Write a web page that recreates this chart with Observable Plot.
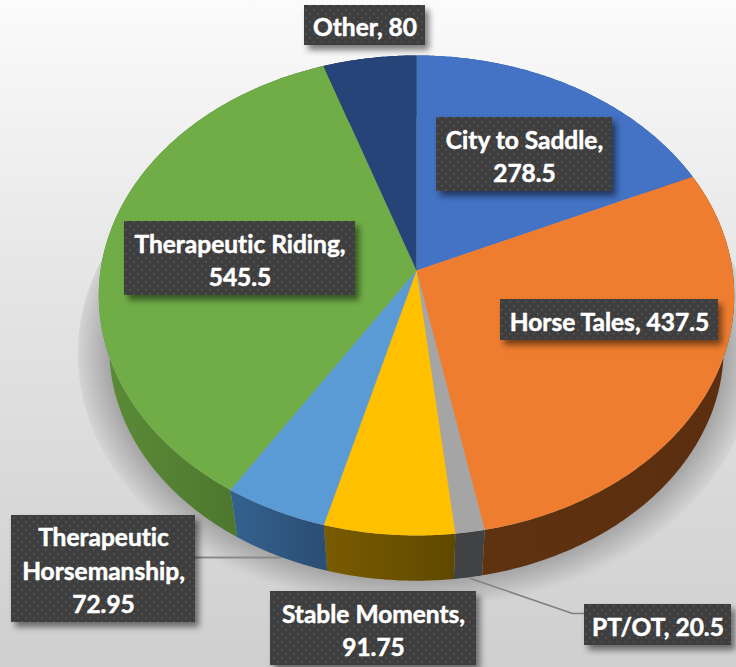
<!DOCTYPE html>
<html>
<head>
<meta charset="utf-8">
<script src="https://cdn.jsdelivr.net/npm/d3@7"></script>
<script src="https://cdn.jsdelivr.net/npm/@observablehq/plot@0.6"></script>
<style>html,body{margin:0;padding:0;background:#fff}svg{display:block}svg text{font-variant-ligatures:none}</style>
</head>
<body>
<div id="chart"></div>
<script>
const categories = ["City to Saddle","Horse Tales","PT/OT","Stable Moments","Therapeutic Horsemanship","Therapeutic Riding","Other"];
const values = [278.5,437.5,20.5,91.75,72.95,545.5,80];
const valueLabels = ["278.5","437.5","20.5","91.75","72.95","545.5","80"];
const topColors = ["#4472c4","#ef7d2f","#a5a5a5","#ffc000","#5b9bd5","#70ad47","#264478"];
const wallLeft = ["#2f5a9a","#5f3210","#404244","#7a5c00","#33628f","#5b8c37","#1d355e"];
const wallRight = ["#2f5a9a","#5a2e0f","#404244","#5f4800","#2b4e74","#466a29","#1d355e"];

// label layout (text lines, box edges in pixels)
const labelLines = [
  "City to Saddle,\n278.5","Horse Tales, 437.5","PT/OT, 20.5","Stable Moments,\n91.75",
  "Therapeutic\nHorsemanship,\n72.95","Therapeutic Riding,\n545.5","Other, 80"];
const boxLeft   = [436,500,584,270,11,124,304];
const boxRight  = [612,718,731,476,195,355,425];
const boxTop    = [117,299,604,591,515,221,5];
const boxBottom = [191,340,645,665,622,295,45];
const leaderTH = [[195,557],[280,557]];
const leaderPT = [[470,578],[572,613],[584,613]];

// oblique view of the disc
const CX=416, CY=270, B=316, A=237.4, K=0.104, DEPTH=55, FLOOR=0.967, SHADOW_FLOOR=600;
const project=(X,Y,z=0)=>{const w=1-K*Y;return [CX+B*X/w, CY+A*Y/w+z];};
const arcPts=(a0,a1,s=1,z=0)=>{
  const n=Math.max(2,Math.ceil((a1-a0)/0.01)),p=[];
  for(let i=0;i<=n;i++){const t=a0+(a1-a0)*i/n;p.push(project(s*Math.sin(t),-s*Math.cos(t),z));}
  return p;
};
const poly=ring=>({type:"Polygon",coordinates:[[...ring,ring[0]]]});
const arcs=d3.pie().sort(null).value(d=>d)(values);
const top_=arcs.map((a,i)=>({geom:poly([project(0,0),...arcPts(a.startAngle,a.endAngle)]),fill:topColors[i]}));
const wall=arcs.map((a,i)=>({geom:poly([...arcPts(a.startAngle,a.endAngle),...arcPts(a.startAngle,a.endAngle,FLOOR,DEPTH).reverse()]),fill:`url(#wall${i})`}));
const xs=arcs.map(a=>d3.extent(arcPts(a.startAngle,a.endAngle),p=>p[0]));

// soft cast shadow: nested discs stepping from the backdrop grey to the darkest grey, cut at a floor line
const SHADOW_LAYERS=18;
const shadowTone=d3.interpolateRgb("#d3d3d3","#a6a6a6");
const shadow=d3.range(SHADOW_LAYERS).map(i=>({
  fill:shadowTone(i/(SHADOW_LAYERS-1)),
  geom:poly(arcPts(0,2*Math.PI,1.065-i*0.0055,DEPTH).slice(0,-1).map(([x,y])=>[x,Math.min(y,SHADOW_FLOOR)]))
}));

const defs=()=>{
  const g=d3.create("svg:defs");
  arcs.forEach((a,i)=>{
    const lg=g.append("linearGradient").attr("id",`wall${i}`).attr("gradientUnits","userSpaceOnUse")
      .attr("x1",xs[i][0]).attr("x2",xs[i][1]).attr("y1",0).attr("y2",0);
    lg.append("stop").attr("offset",0).attr("stop-color",wallLeft[i]);
    lg.append("stop").attr("offset",1).attr("stop-color",wallRight[i]);
  });
  const pat=g.append("pattern").attr("id","dots").attr("patternUnits","userSpaceOnUse").attr("width",8).attr("height",8);
  pat.append("rect").attr("width",8).attr("height",8).attr("fill","#3e3e3e");
  pat.append("rect").attr("x",1).attr("y",1).attr("width",1.6).attr("height",1.6).attr("fill","#585858");
  pat.append("rect").attr("x",5).attr("y",5).attr("width",1.6).attr("height",1.6).attr("fill","#585858");
  return g.node();
};

const labels=categories.map((c,i)=>({name:c,value:valueLabels[i],text:labelLines[i],x1:boxLeft[i],x2:boxRight[i],y1:boxTop[i],y2:boxBottom[i]}));

const chart=Plot.plot({
  width:736,height:667,margin:0,
  x:{type:"identity",axis:null},y:{type:"identity",axis:null},color:{type:"identity"},
  style:{background:"linear-gradient(to bottom,#fbfbfb 0%,#e4e4e4 45%,#cfcfcf 100%)",overflow:"hidden"},
  marks:[
    defs,
    Plot.geo(shadow,{geometry:d=>d.geom,fill:d=>d.fill}),
    Plot.line(leaderTH,{x:d=>d[0],y:d=>d[1],stroke:"#8a8a8a",strokeWidth:2}),
    Plot.line(leaderPT,{x:d=>d[0],y:d=>d[1],stroke:"#808080",strokeWidth:1.5}),
    Plot.geo(wall,{geometry:d=>d.geom,fill:d=>d.fill}),
    Plot.geo(top_,{geometry:d=>d.geom,fill:d=>d.fill}),
    Plot.rect(labels,{x1:"x1",x2:"x2",y1:"y1",y2:"y2",fill:"url(#dots)",imageFilter:"drop-shadow(4px 5px 3px rgba(0,0,0,0.5))"}),
    Plot.text(labels,{x:d=>(d.x1+d.x2)/2,y:d=>(d.y1+d.y2)/2,text:"text",fill:"#fff",stroke:"#fff",strokeWidth:0.5,fontFamily:"Lato",fontWeight:700,fontSize:24.5,lineHeight:1.36,textAnchor:"middle"})
  ]
});
document.getElementById("chart").append(chart);
</script>
</body>
</html>
